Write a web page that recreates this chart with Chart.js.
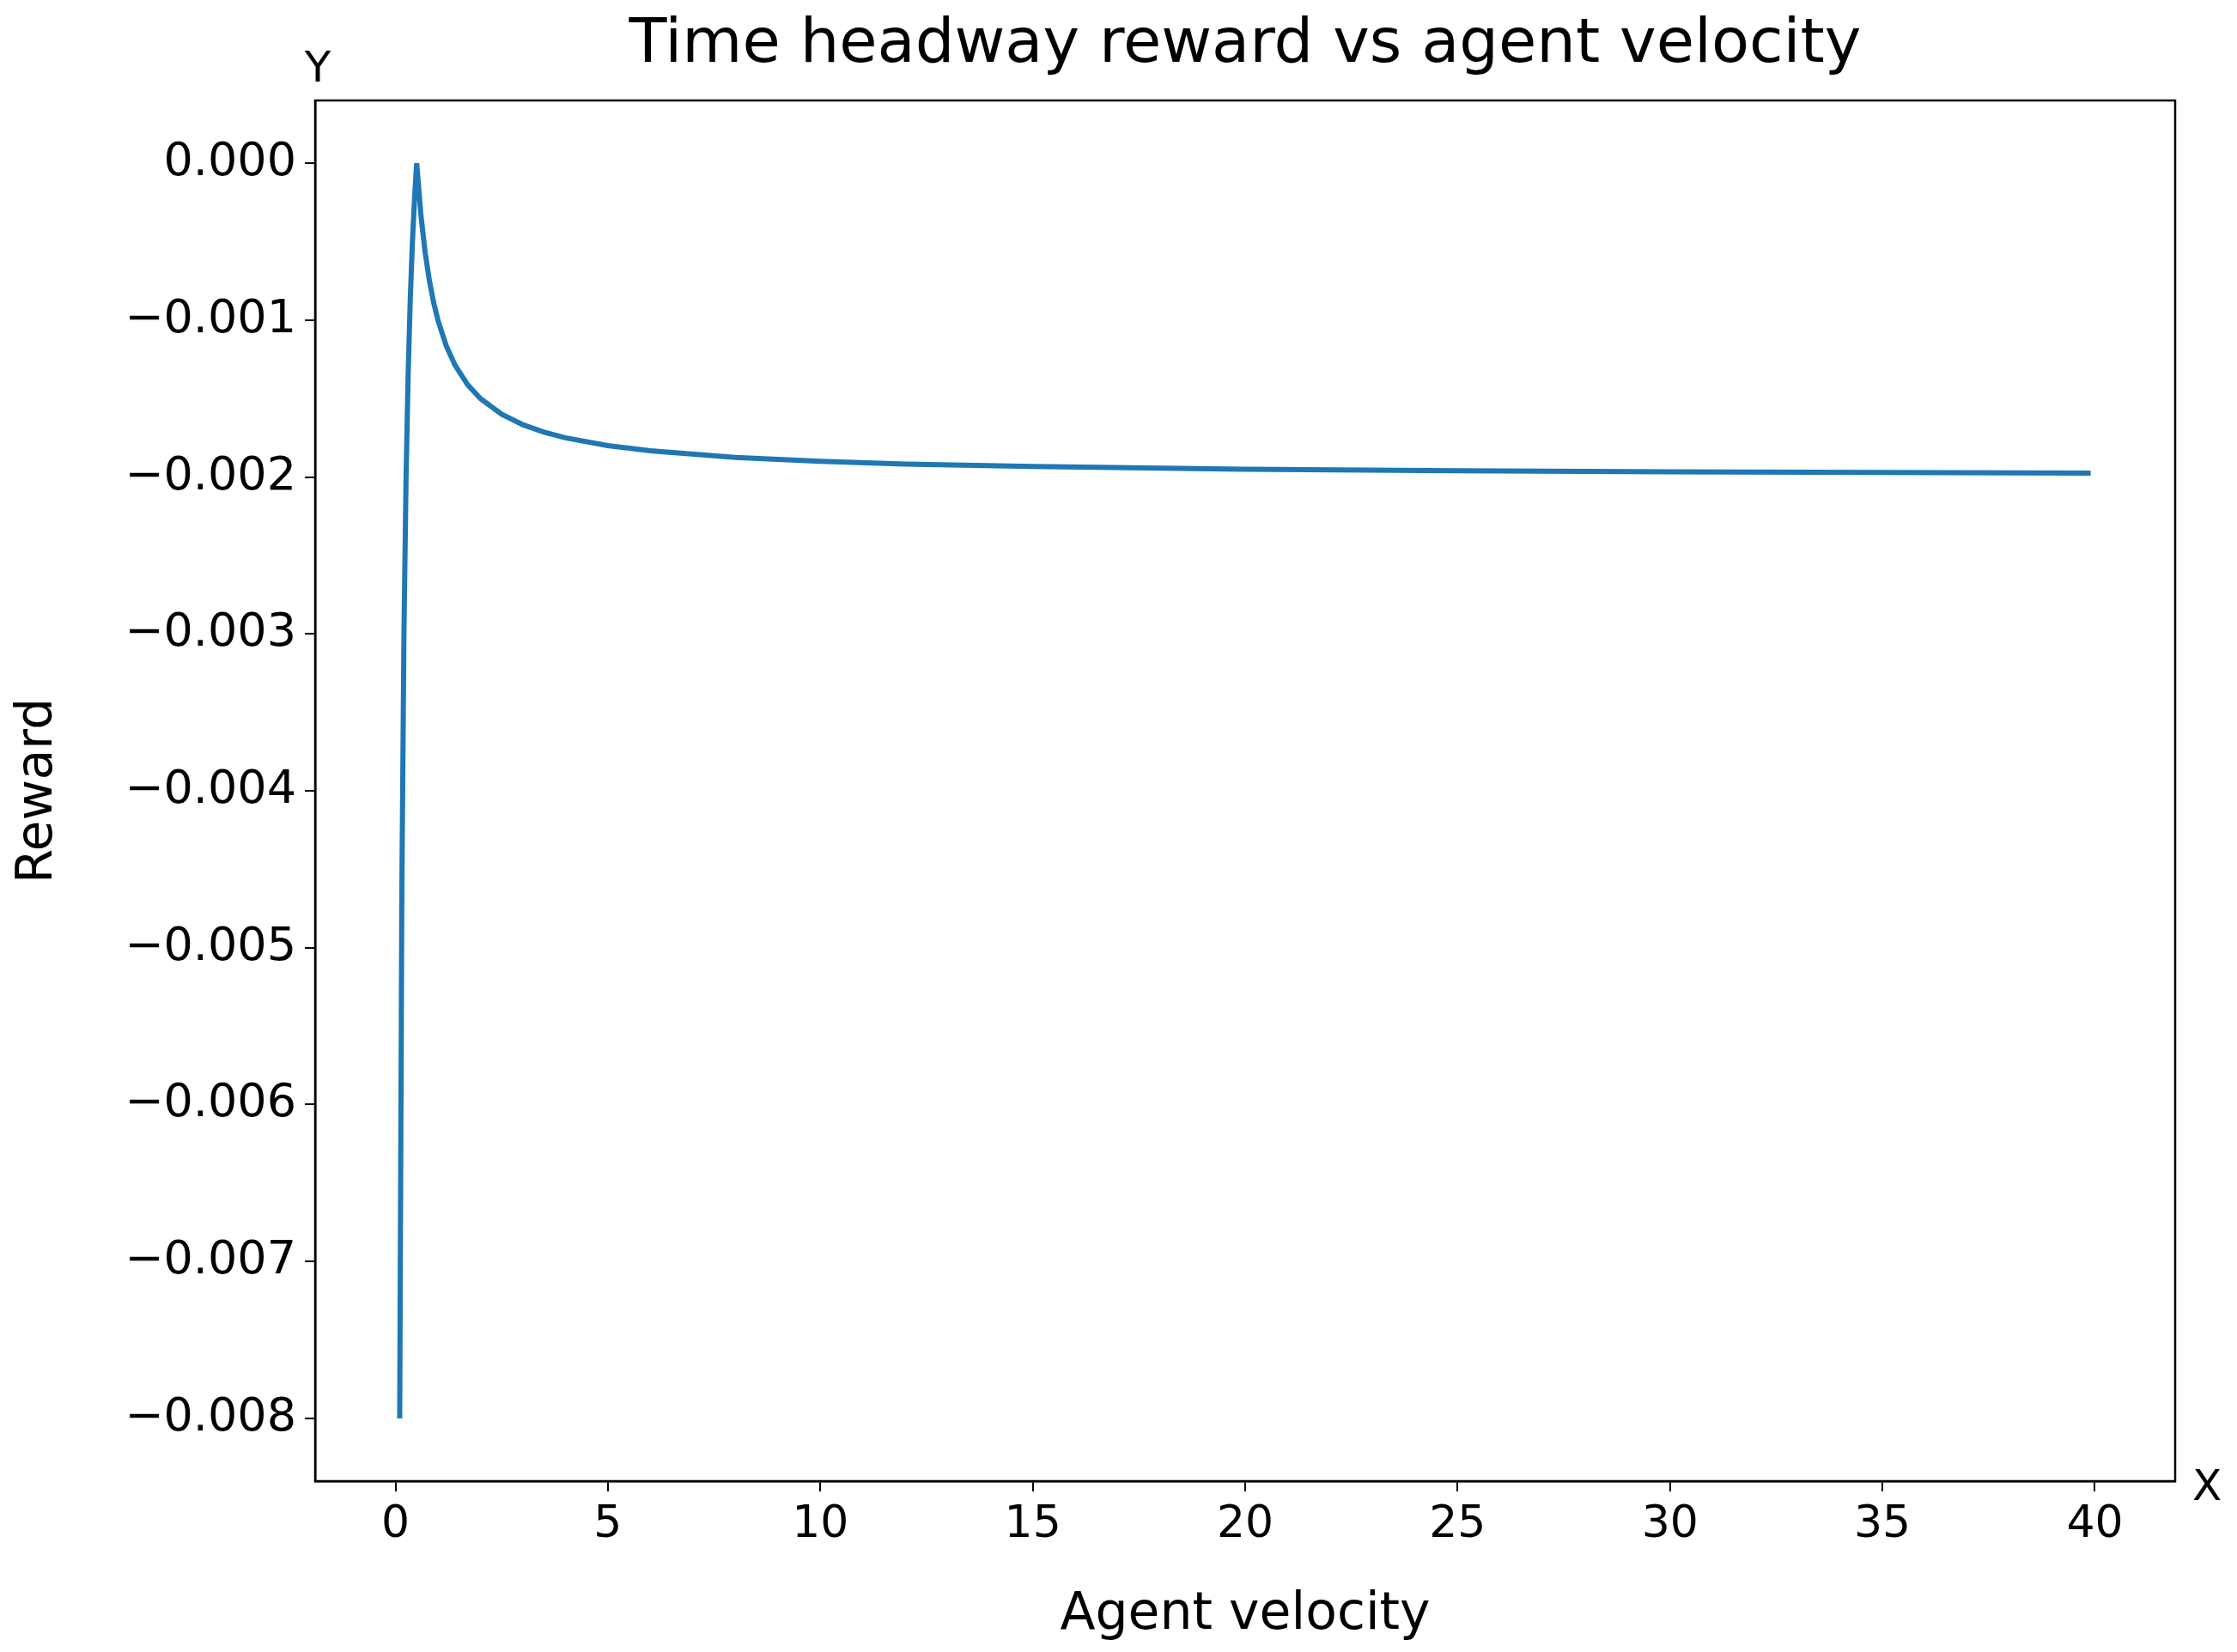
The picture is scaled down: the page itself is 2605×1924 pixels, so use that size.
<!DOCTYPE html>
<html>
<head>
<meta charset="utf-8">
<script src="https://cdn.jsdelivr.net/npm/chart.js@4"></script>
<style>
  html, body { margin: 0; padding: 0; background: #fff; }
  #wrap { width: 2605px; height: 1924px; }
</style>
</head>
<body>
<div id="wrap"><canvas id="c"></canvas></div>
<script>
// Values
const velocity = [0.1, 0.15, 0.2, 0.25, 0.3, 0.35, 0.4, 0.45, 0.5, 0.6, 0.7, 0.8, 0.9, 1, 1.2, 1.4, 1.7, 2, 2.5, 3, 3.5, 4, 5, 6, 8, 10, 12, 15, 20, 25, 30, 35, 39.9];
const reward = [-0.008, -0.004667, -0.003, -0.002, -0.001333, -0.000857, -0.0005, -0.000222, 0, -0.000333, -0.000571, -0.00075, -0.000889, -0.001, -0.001167, -0.001286, -0.001412, -0.0015, -0.0016, -0.001667, -0.001714, -0.00175, -0.0018, -0.001833, -0.001875, -0.0019, -0.001917, -0.001933, -0.00195, -0.00196, -0.001967, -0.001971, -0.001975];
const xTicks = [0, 5, 10, 15, 20, 25, 30, 35, 40];
const yTicks = [0, -0.001, -0.002, -0.003, -0.004, -0.005, -0.006, -0.007, -0.008];

const FONT = 'DejaVu Sans';
const points = velocity.map((v, i) => ({ x: v, y: reward[i] }));

// Draws frame, title, axis titles and the X / Y corner labels
const decorations = {
    id: 'decorations',
    afterDraw(chart) {
        const ctx = chart.ctx;
        const a = chart.chartArea;
        ctx.save();
        ctx.strokeStyle = '#000';
        ctx.lineWidth = 2.5;
        ctx.strokeRect(a.left, a.top, a.right - a.left, a.bottom - a.top);
        ctx.fillStyle = '#000';
        ctx.textAlign = 'center';
        ctx.textBaseline = 'alphabetic';
        ctx.font = '72px ' + FONT;
        ctx.fillText('Time headway reward vs agent velocity', (a.left + a.right) / 2, 72);
        ctx.font = '60px ' + FONT;
        ctx.fillText('Agent velocity', (a.left + a.right) / 2, 1897);
        ctx.font = '50px ' + FONT;
        ctx.fillText('Y', a.left + 3, 95);
        ctx.textAlign = 'left';
        ctx.fillText('X', a.right + 20, a.bottom + 22);
        ctx.font = '58px ' + FONT;
        ctx.translate(60, (a.top + a.bottom) / 2);
        ctx.rotate(-Math.PI / 2);
        ctx.textAlign = 'center';
        ctx.fillText('Reward', 0, 0);
        ctx.restore();
    }
};

new Chart(document.getElementById('c'), {
    type: 'scatter',
    data: {
        datasets: [{
            data: points,
            showLine: true,
            borderColor: '#1f77b4',
            borderWidth: 6,
            pointRadius: 0,
            tension: 0
        }]
    },
    options: {
        responsive: true,
        maintainAspectRatio: false,
        animation: false,
        layout: { padding: { left: 0, right: 72, top: 117, bottom: 0 } },
        plugins: { legend: { display: false }, tooltip: { enabled: false } },
        scales: {
            x: {
                type: 'linear',
                min: -1.89,
                max: 41.89,
                afterBuildTicks: s => { s.ticks = xTicks.map(v => ({ value: v })); },
                afterFit: s => { s.height = 199; },
                grid: { drawOnChartArea: false, drawTicks: true, tickLength: 12, color: '#000', lineWidth: 2 },
                border: { display: true, color: '#000', width: 2.5 },
                ticks: { color: '#000', font: { family: FONT, size: 52 }, padding: 8, maxRotation: 0 }
            },
            y: {
                type: 'linear',
                min: -0.0084,
                max: 0.0004,
                afterBuildTicks: s => { s.ticks = yTicks.map(v => ({ value: v })); },
                afterFit: s => { s.width = 367; },
                grid: { drawOnChartArea: false, drawTicks: true, tickLength: 12, color: '#000', lineWidth: 2 },
                border: { display: true, color: '#000', width: 2.5 },
                ticks: {
                    color: '#000',
                    font: { family: FONT, size: 54 },
                    padding: 10,
                    callback: v => v.toFixed(3).replace('-', '\u2212')
                }
            }
        }
    },
    plugins: [decorations]
});
</script>
</body>
</html>
